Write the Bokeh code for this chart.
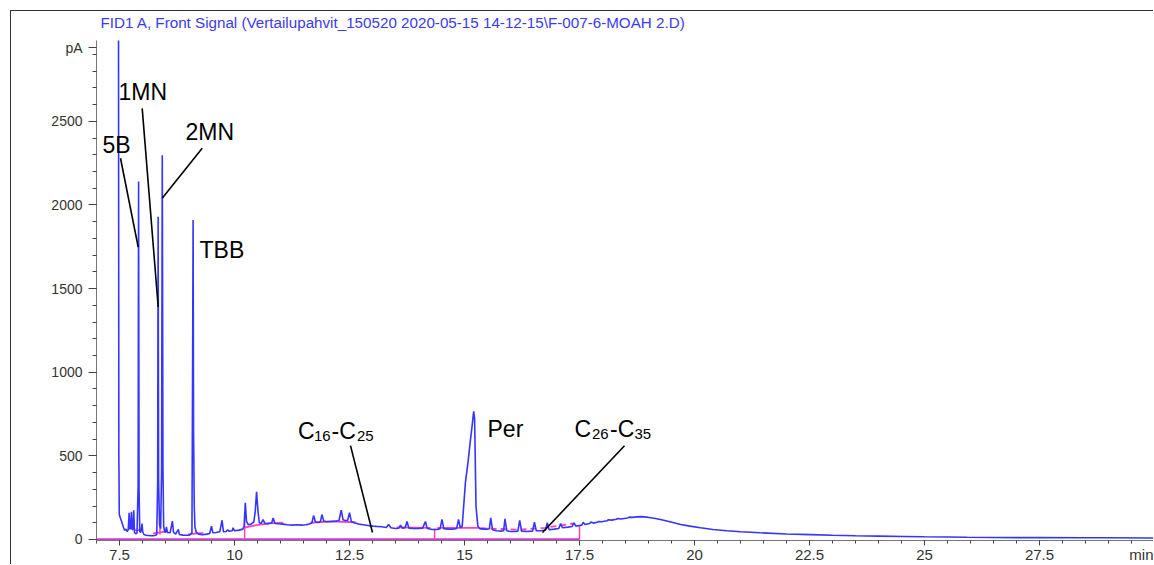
from bokeh.plotting import figure
from bokeh.models import Label, FixedTicker, Range1d, Title
from bokeh.embed import file_html
from bokeh.resources import INLINE

# ---------------- data ----------------
time_min = [
    7.460, 7.478, 7.486, 7.495, 7.52, 7.55, 7.58, 7.61, 7.64, 7.665, 7.69, 7.71, 7.725, 7.745,
    7.76, 7.775, 7.795, 7.81, 7.825, 7.85, 7.88, 7.905, 7.915, 7.925, 7.94, 7.96, 7.975, 7.99,
    8.005, 8.03, 8.08, 8.13, 8.18, 8.23, 8.28, 8.31, 8.33, 8.34, 8.35, 8.37, 8.395, 8.415, 8.43,
    8.445, 8.46, 8.48, 8.50, 8.52, 8.54, 8.60, 8.65, 8.675, 8.72, 8.78, 8.80, 8.88, 8.95, 9.02,
    9.075, 9.09, 9.10, 9.11, 9.125, 9.14, 9.17, 9.22, 9.30, 9.40, 9.46, 9.50, 9.53, 9.60, 9.68,
    9.73, 9.76, 9.82, 9.85, 9.88, 9.95, 9.97, 10.00, 10.10, 10.18, 10.21, 10.235, 10.26, 10.30,
    10.36, 10.42, 10.45, 10.48, 10.51, 10.54, 10.58, 10.62, 10.66, 10.75, 10.81, 10.84, 10.88,
    10.95, 11.05, 11.15, 11.25, 11.35, 11.45, 11.55, 11.62, 11.68, 11.72, 11.76, 11.83, 11.87,
    11.90, 11.94, 12.00, 12.10, 12.20, 12.27, 12.32, 12.36, 12.42, 12.46, 12.50, 12.54, 12.60,
    12.70, 12.80, 12.90, 13.00, 13.10, 13.20, 13.30, 13.35, 13.40, 13.50, 13.57, 13.61, 13.65,
    13.71, 13.75, 13.79, 13.90, 14.00, 14.09, 14.15, 14.19, 14.30, 14.40, 14.47, 14.51, 14.55,
    14.65, 14.75, 14.83, 14.87, 14.91, 14.95, 15.02, 15.08, 15.13, 15.17, 15.20, 15.22, 15.25,
    15.29, 15.33, 15.40, 15.50, 15.54, 15.57, 15.61, 15.70, 15.80, 15.85, 15.88, 15.92, 16.00,
    16.10, 16.16, 16.20, 16.24, 16.35, 16.48, 16.52, 16.56, 16.66, 16.76, 16.80, 16.84, 16.95,
    17.05, 17.09, 17.13, 17.25, 17.34, 17.38, 17.42, 17.50, 17.55, 17.58, 17.62, 17.72, 17.75,
    17.80, 17.88, 17.92, 17.98, 18.10, 18.13, 18.20, 18.30, 18.34, 18.40, 18.55, 18.58, 18.65,
    18.75, 18.83, 18.92, 19.05, 19.15, 19.26, 19.40, 19.55, 19.70, 19.90, 20.13, 20.40, 20.70,
    21.00, 21.43, 22.00, 22.52, 23.00, 23.50, 24.00, 24.54, 25.00, 25.50, 25.93, 26.50, 27.00,
    27.50, 28.46, 29.00, 30.00,
]
signal_pA = [
    3200, 3200, 500, 150, 128, 105, 78, 55, 62, 48, 58, 160, 62, 68,
    165, 58, 62, 175, 42, 35, 38, 320, 2140, 300, 48, 42, 62, 95,
    45, 30, 25, 24, 22, 22, 25, 30, 350, 1930, 350, 90, 65, 420, 2297,
    420, 80, 48, 42, 75, 42, 40, 110, 42, 32, 60, 30, 26, 25, 26,
    40, 1100, 1910, 650, 200, 75, 42, 32, 28, 32, 36, 80, 40, 42, 46,
    115, 46, 48, 58, 50, 52, 70, 52, 56, 62, 80, 220, 110, 88,
    92, 105, 165, 285, 170, 100, 96, 119, 96, 95, 100, 129, 96,
    94, 92, 88, 86, 88, 86, 88, 92, 98, 143, 105, 102, 108,
    149, 110, 106, 108, 110, 112, 175, 118, 112, 115, 161, 108, 100,
    92, 88, 84, 80, 78, 76, 72, 90, 70, 66, 68, 85, 68,
    70, 108, 68, 66, 66, 68, 108, 66, 60, 60, 65, 120, 65,
    62, 62, 66, 120, 70, 80, 340, 470, 597, 690, 766, 720, 199,
    80, 65, 62, 62, 64, 129, 58, 52, 50, 52, 123, 52, 48,
    48, 50, 115, 50, 48, 50, 103, 52, 52, 56, 100, 58, 62,
    66, 96, 70, 74, 78, 100, 80, 84, 86, 103, 90, 96, 104,
    98, 103, 108, 106, 112, 118, 116, 121, 126, 123, 129, 134, 132,
    135, 137, 135, 130, 125, 119, 110, 100, 90, 80, 70, 60, 52,
    46, 40, 33, 29, 25, 22, 20, 18, 16, 15, 13, 12, 11,
    11, 10, 10, 9,
]

# integration baselines (pink)
baseline_t = [
    [7.83, 8.01], [8.23, 8.56], [8.99, 9.32], [10.19, 10.45, 10.75, 11.06],
    [11.65, 12.10, 12.63], [13.53, 14.26], [14.41, 15.35],
]
baseline_v = [
    [56, 56], [36, 50], [30, 40], [70, 85, 96, 100],
    [100, 108, 103], [72, 70], [70, 70],
]
dashed_baseline_t = [15.35, 16.20, 16.75, 17.38]
dashed_baseline_v = [68, 58, 70, 96]
marker_t = [8.38, 10.22, 14.35, 17.50]
marker_low = [30, 0, 0, 0]
marker_high = [175, 150, 66, 84]
area_t = [7.0, 17.5]
area_v = [0, 0]

x_tick_values = [7.5, 10, 12.5, 15, 17.5, 20, 22.5, 25, 27.5, 29.99]
x_tick_labels = ["7.5", "10", "12.5", "15", "17.5", "20", "22.5", "25", "27.5", "min"]
y_tick_values = [0, 500, 1000, 1500, 2000, 2500, 2940]
y_tick_labels = ["0", "500", "1000", "1500", "2000", "2500", "pA"]

title_text = "FID1 A, Front Signal (Vertailupahvit_150520 2020-05-15 14-12-15\\F-007-6-MOAH 2.D)"
peak_names = ["5B", "1MN", "2MN", "TBB", "Per"]
range_labels = [["C", "16", "-C", "25"], ["C", "26", "-C", "35"]]

# ---------------- figure ----------------
FONT = "Liberation Sans"
BLUE = "#3535ff"
PINK = "#ff3fc0"
MAGENTA = "#d23ad2"

p = figure(width=1143, height=554, output_backend="svg", toolbar_location=None,
           x_range=Range1d(7.0, 30.0), y_range=Range1d(-6, 2983),
           min_border_left=85, min_border_right=0, min_border_top=28, min_border_bottom=25)
p.margin = (10, 0, 0, 10)
p.styles = {"border-left": "1px solid #333333", "border-top": "1px solid #333333"}
p.outline_line_color = None
p.grid.visible = False
p.title.text = ""

# spacer between the frame and the title, then the title itself
p.add_layout(Title(text=" ", text_font_size="1px", standoff=7), "above")
p.add_layout(Title(text=title_text, text_color="#3a3aee", text_font=FONT, text_font_size="15.2px",
                   text_font_style="normal", align="left", offset=4, standoff=0), "above")

# axes
p.xaxis.ticker = FixedTicker(ticks=x_tick_values,
                             minor_ticks=[7.0 + 0.5 * i for i in range(47)])
p.xaxis.major_label_overrides = dict(zip(x_tick_values, x_tick_labels))
p.yaxis.ticker = FixedTicker(ticks=y_tick_values, minor_ticks=list(range(0, 3000, 100)))
p.yaxis.major_label_overrides = dict(zip(y_tick_values, y_tick_labels))
for ax in (p.xaxis[0], p.yaxis[0]):
    ax.axis_line_color = "#777777"
    ax.major_tick_line_color = "#444444"
    ax.minor_tick_line_color = "#444444"
    ax.major_tick_in = 0
    ax.minor_tick_in = 0
    ax.major_label_text_font = FONT
    ax.major_label_text_color = "#333333"
p.xaxis.major_label_text_font_size = "15px"
p.yaxis.major_label_text_font_size = "14px"
p.xaxis.major_tick_out = 5
p.xaxis.minor_tick_out = 3
p.xaxis.major_label_standoff = 0
p.yaxis.major_tick_out = 8
p.yaxis.minor_tick_out = 4
p.yaxis.major_label_standoff = 6

# integration marks
p.line(area_t, area_v, line_color=MAGENTA, line_width=2.5)
p.segment(x0=marker_t, y0=marker_low, x1=marker_t, y1=marker_high, line_color=PINK, line_width=1.5)
p.multi_line(baseline_t, baseline_v, line_color=PINK, line_width=1.8)
p.line(dashed_baseline_t, dashed_baseline_v, line_color=PINK, line_width=1.8, line_dash="6 4")

# signal trace
p.line(time_min, signal_pA, line_color=BLUE, line_width=1.6)


# helpers converting reference picture placement to data coordinates (annotations only)
def tx(px):
    return 7.0 + (px - 96.0) / 46.0


def vy(py):
    return (540.0 - py) * 500.0 / 83.8


# peak names (y = bottom of the text box)
peak_pos = [(102, 158), (118, 105), (185, 145), (199, 263), (487, 442)]
for name, (px, py) in zip(peak_names, peak_pos):
    p.add_layout(Label(x=tx(px), y=vy(py), text=name, text_align="left", text_baseline="bottom",
                       text_font=FONT, text_font_size="23px", text_color="black"))

# carbon range labels with subscripts
range_piece_x = [[297.5, 313.5, 331, 356.5], [574, 591.5, 609.5, 634]]
range_bottom_y = [444.5, 442.5]
for pieces, xs, by in zip(range_labels, range_piece_x, range_bottom_y):
    for i, (txt, px) in enumerate(zip(pieces, xs)):
        big = i % 2 == 0
        p.add_layout(Label(x=tx(px), y=vy(by if big else by - 3), text=txt, text_align="left",
                           text_baseline="bottom", text_font=FONT,
                           text_font_size="23px" if big else "15px", text_color="black"))

# leader lines
lead = [((120, 158), (137.7, 247)), ((141.7, 108), (157.7, 307)), ((201.7, 148), (161.7, 198)),
        ((350, 446), (372, 533)), ((624, 446), (542, 533))]
p.segment(x0=[tx(a[0]) for a, b in lead], y0=[vy(a[1]) for a, b in lead],
          x1=[tx(b[0]) for a, b in lead], y1=[vy(b[1]) for a, b in lead],
          line_color="black", line_width=1.6)

open("out.html", "w").write(file_html(p, INLINE))
